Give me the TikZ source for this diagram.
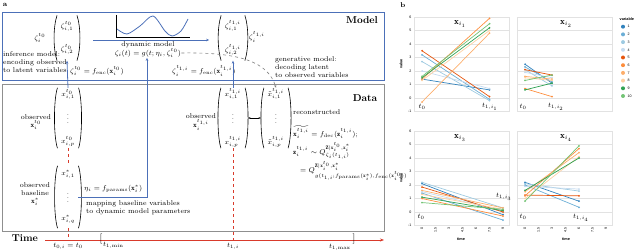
\documentclass[tikz,border=0pt]{standalone}
\usepackage{amsmath,amssymb}
\usepackage{fontspec}
\usepackage{xcolor}
\usetikzlibrary{arrows.meta,positioning}

\newfontfamily\plotfont{Liberation Sans}

\definecolor{modelblue}{HTML}{4C70B8}
\definecolor{timered}{HTML}{D93A2B}
\definecolor{framegray}{HTML}{8F8F8F}
\definecolor{gridgray}{HTML}{E2E2E2}
\definecolor{v1}{HTML}{3182BD}
\definecolor{v2}{HTML}{6BAED6}
\definecolor{v3}{HTML}{9ECAE1}
\definecolor{v4}{HTML}{C6DBEF}
\definecolor{v5}{HTML}{E6550D}
\definecolor{v6}{HTML}{FD8D3C}
\definecolor{v7}{HTML}{FDAE6B}
\definecolor{v8}{HTML}{FDD0A2}
\definecolor{v9}{HTML}{31A354}
\definecolor{v10}{HTML}{74C476}

\newcommand{\fenc}{f_{\mathrm{enc}}}
\newcommand{\fdec}{f_{\mathrm{dec}}}
\newcommand{\fpar}{f_{\mathrm{params}}}

% one small panel of part b: left edge, row of value 0, tick of t_1, value pairs
\newcommand{\drawpanel}[4]{%
  \foreach \g in {-1,...,6}
    \draw[gridgray,line width=0.4pt] ({#1},{#2-13.5*(\g)}) -- ({#1+95},{#2-13.5*(\g)});
  \draw[gridgray,line width=0.5pt] ({#1},{#2-81}) rectangle ({#1+95},{#2+13.5});
  \foreach \a/\b [count=\k] in {#4} {
    \draw[v\k,line width=0.7pt] ({#1+8},{#2-13.5*(\a)}) -- ({#1+8+13.5*#3},{#2-13.5*(\b)});
    \fill[v\k] ({#1+8},{#2-13.5*(\a)}) circle (1pt) ({#1+8+13.5*#3},{#2-13.5*(\b)}) circle (1pt);
  }%
}

\begin{document}
\begin{tikzpicture}[x=1pt,y=-1pt,
          txt/.style={font=\scriptsize,inner sep=0pt},
          head/.style={font=\bfseries,inner sep=0pt},
          parenl/.style={line width=0.6pt,to path={.. controls +(-4,12) and +(-4,-12) .. (\tikztotarget)}},
          parenr/.style={line width=0.6pt,to path={.. controls +(4,12) and +(4,-12) .. (\tikztotarget)}},
          vec/.style={font=\scriptsize,inner xsep=3.5pt,inner ysep=0pt,minimum height=#1,
            append after command={
              (\tikzlastnode.north west) edge[parenl] (\tikzlastnode.south west)
              (\tikzlastnode.north east) edge[parenr] (\tikzlastnode.south east)}},
          vec/.default=60pt,
          bluearr/.style={modelblue,line width=0.8pt,-{Stealth[length=3pt,width=2.5pt]}},
          reddash/.style={timered,line width=0.9pt,dashed},
          tick/.style={font=\plotfont\fontsize{3.6}{4}\selectfont,inner sep=0.5pt},
          ptxt/.style={font=\scriptsize,inner sep=0pt}]
\useasboundingbox (0,0) rectangle (640,251);

% ---- part a
\node[head,font=\bfseries\scriptsize] (taga) at (5,5) {a};

% model box
\draw[modelblue,line width=0.8pt] (2,12) rectangle (384,80);
\node[head] (model) at (362,20) {Model};
\node[txt] (zetazero) at (40,38) {$\zeta_i^{t_0}$};
\node[vec=45pt] (zvec0) at (67,38) {$\begin{array}{@{}c@{}}\zeta^{t_0}_{i,1}\\[14pt]\zeta^{t_0}_{i,2}\end{array}$};
\node[vec=45pt] (zvec1) at (233,38) {$\begin{array}{@{}c@{}}\zeta^{t_{1,i}}_{i,1}\\[14pt]\zeta^{t_{1,i}}_{i,2}\end{array}$};
\node[txt] (zetaone) at (257,37) {$\zeta_i^{t_{1,i}}$};
\draw[line width=0.5pt] (116,15) -- (116,37) -- (190,37);
\draw[modelblue,line width=0.8pt] plot[smooth] coordinates {(117,29) (127,34) (140,26) (153,16) (165,31) (172,36) (181,31) (188,19)};
\coordinate (dynleft) at (93,40);
\draw[bluearr,shorten >=12pt] (dynleft) -- (zvec1.west |- dynleft);
\node[txt] (dyn) at (148,45) {dynamic model};
\node[txt] (dyneq) at (148,53) {$\zeta_i(t)=g(t;\eta_i,\zeta_i^{t_0})$};
\node[txt,align=left,anchor=west] (inf) at (3,62) {inference model:\\encoding observed\\to latent variables};
\node[txt,anchor=west] (encz) at (70,71) {$\zeta_i^{t_0}=\fenc(\mathbf{x}_i^{t_0})$};
\node[txt,anchor=west] (encone) at (172,71) {$\zeta_i^{t_{1,i}}=\fenc(\mathbf{x}_i^{t_{1,i}})$};
\node[txt,align=left,anchor=west] (gen) at (275,67) {generative model:\\decoding latent\\to observed variables};

% data box
\draw[framegray,line width=0.8pt] (2,84) rectangle (384,231);
\node[head] (data) at (365,98) {Data};
\node[txt,align=center] (obs0) at (36,122) {observed\\$\mathbf{x}_i^{t_0}$};
\node[vec] (xvec0) at (68,118) {$\begin{array}{@{}c@{}}x^{t_0}_{i,1}\\[10pt]\vdots\\[10pt]x^{t_0}_{i,p}\end{array}$};
\node[txt,align=center] (obsb) at (35,194) {observed\\baseline\\$\mathbf{x}_i^{*}$};
\node[vec=62pt] (xstar) at (68,197) {$\begin{array}{@{}c@{}}x^{*}_{i,1}\\[10pt]\vdots\\[10pt]x^{*}_{i,q}\end{array}$};
\node[txt,anchor=west] (param) at (84,189) {$\eta_i=\fpar(\mathbf{x}_i^{*})$};
\node[txt,align=left,anchor=west] (maptxt) at (86,208) {mapping baseline variables\\to dynamic model parameters};
\node[txt,align=center] (obs1) at (201,122) {observed\\$\mathbf{x}_i^{t_{1,i}}$};
\node[vec] (xvec1) at (233,118) {$\begin{array}{@{}c@{}}x^{t_{1,i}}_{i,1}\\[10pt]\vdots\\[10pt]x^{t_{1,i}}_{i,p}\end{array}$};
\node[vec] (xrec) at (276,118) {$\begin{array}{@{}c@{}}\tilde{x}^{t_{1,i}}_{i,1}\\[10pt]\vdots\\[10pt]\tilde{x}^{t_{1,i}}_{i,p}\end{array}$};
\node[txt,anchor=west] (rec) at (293,112) {reconstructed};
\node[txt,anchor=west] (receq) at (293,132) {$\widetilde{\mathbf{x}_i^{t_{1,i}}}=\fdec(\mathbf{z}_i^{t_{1,i}})$;};
\node[txt,anchor=west] (qeq) at (293,151) {$\mathbf{z}_i^{t_{1,i}}\sim Q^{\mathbf{Z}|\mathbf{x}_i^{t_0},\mathbf{x}_i^{*}}_{\zeta_i(t_{1,i})}$};
\node[txt,anchor=west] (qeqb) at (300,171) {$=Q^{\mathbf{Z}|\mathbf{x}_i^{t_0},\mathbf{x}_i^{*}}_{g(t_{1,i};\fpar(\mathbf{x}_i^{*}),\fenc(\mathbf{x}_i^{t_0}))}$};

% connectors
\coordinate (pbend) at (147,197);
\draw[bluearr] (xvec0.north) -- (zvec0.south);
\draw[bluearr] (xvec1.north) -- (zvec1.south);
\draw[bluearr] (xstar.east |- pbend) -- (pbend) -- (pbend |- dyneq.south);
\draw[gray,line width=0.6pt,dashed,-{Stealth[length=3pt,width=2.5pt]}] (dyneq.east) .. controls (240,52) and (268,62) .. (xrec.north);
\draw[line width=0.5pt,{Stealth[length=2.5pt]}-{Stealth[length=2.5pt]}] ([xshift=3pt]xvec1.east) -- ([xshift=-3pt]xrec.west);

% time axis
\node[head] (time) at (25,238) {Time};
\coordinate (tstart) at (45,240);
\coordinate (tend) at (384,240);
\coordinate (tzero) at (68,240);
\coordinate (tone) at (233,240);
\draw[timered,line width=0.8pt,-{Stealth[length=4pt,width=3pt]}] (tstart) -- (tend);
\draw[reddash] (xvec0.south) -- (xstar.north);
\draw[reddash] (xstar.south) -- (tzero);
\draw[reddash] (xvec1.south) -- (tone);
\node[txt] (t0lbl) at (68,246) {$t_{0,i}=t_0$};
\node[inner sep=0pt] (tmin) at (101,239) {$[$};
\node[txt,anchor=west] (tminlbl) at (103,245) {$t_{1,\mathrm{min}}$};
\node[txt] (t1lbl) at (233,246) {$t_{1,i}$};
\node[inner sep=0pt] (tmax) at (354,239) {$]$};
\node[txt,anchor=east] (tmaxlbl) at (351,247) {$t_{1,\mathrm{max}}$};

% ---- part b
\node[head,font=\bfseries\scriptsize] (tagb) at (403,5) {b};
\drawpanel{414}{98}{5}{1.4/0.6, 3.2/-0.1, 2.7/-0.2, 2.0/0.7, 3.5/0.1, 1.4/5.9, -0.3/4.8, 1.3/5.0, 1.5/5.2, 1.6/5.5}
\drawpanel{517}{98}{2}{2.5/1.1, 2.3/1.2, 2.1/0.9, 1.9/1.5, 2.1/1.7, 0.7/0.1, 1.6/1.4, 1.5/1.3, 0.6/1.1, 1.3/1.7}
\drawpanel{414}{212}{6}{2.1/-0.2, 1.4/-0.6, 2.2/0.3, 1.5/0.1, 1.85/0.0, 1.0/-0.3, 1.6/0.3, 1.3/0.2, 1.1/0.1, 0.7/0.2}
\drawpanel{517}{212}{4}{2.2/0.8, 2.0/0.35, 2.1/1.55, 1.9/1.7, 1.25/1.2, 1.2/4.7, 1.5/4.4, 1.0/4.1, 1.6/4.0, 0.8/4.9}

% y axes
\foreach \g in {-1,...,6} {
  \node[tick,anchor=east] (ya\g) at (412,{98-13.5*(\g)}) {\g};
  \node[tick,anchor=east] (yb\g) at (412,{212-13.5*(\g)}) {\g};
}
\node[tick,font=\plotfont\bfseries\fontsize{3.8}{4}\selectfont,rotate=90] (vala) at (401,64) {value};
\node[tick,font=\plotfont\bfseries\fontsize{3.8}{4}\selectfont,rotate=90] (valb) at (401,178) {value};

% x axes
\foreach \t [count=\n from 0] in {0,1.5,3,4.5,6,7.5,9} {
  \node[tick,rotate=90,anchor=east] (xa\n) at ({422+13.5*\n},227) {\t};
  \node[tick,rotate=90,anchor=east] (xb\n) at ({525+13.5*\n},227) {\t};
}
\node[tick,font=\plotfont\bfseries\fontsize{3.8}{4}\selectfont] (timea) at (461,239) {time};
\node[tick,font=\plotfont\bfseries\fontsize{3.8}{4}\selectfont] (timeb) at (566,239) {time};

% titles and time marks
\node[ptxt,font=\small] (ti1) at (460,24) {$\mathbf{x}_{i_1}$};
\node[ptxt,font=\small] (ti2) at (566,24) {$\mathbf{x}_{i_2}$};
\node[ptxt,font=\small] (ti3) at (460,138) {$\mathbf{x}_{i_3}$};
\node[ptxt,font=\small] (ti4) at (566,138) {$\mathbf{x}_{i_4}$};
\node[ptxt] (pa0) at (422,107) {$t_0$};
\node[ptxt] (pa1) at (490,107) {$t_{1,i_1}$};
\node[ptxt] (pb0) at (523,107) {$t_0$};
\node[ptxt] (pb1) at (556,107) {$t_{1,i_2}$};
\node[ptxt] (pc0) at (421,217) {$t_0$};
\node[ptxt] (pc1) at (504,197) {$t_{1,i_3}$};
\node[ptxt] (pd0) at (523,217) {$t_0$};
\node[ptxt] (pd1) at (581,218) {$t_{1,i_4}$};

% legend
\node[tick,font=\plotfont\bfseries\fontsize{3.8}{4}\selectfont,anchor=west] (legtitle) at (619,19) {variable};
\foreach \k in {1,...,10} {
  \fill[v\k] (623,{19+7.7*\k}) circle (2pt);
  \node[tick,anchor=west] (leg\k) at (627,{19+7.7*\k}) {\k};
}
\end{tikzpicture}
\end{document}
